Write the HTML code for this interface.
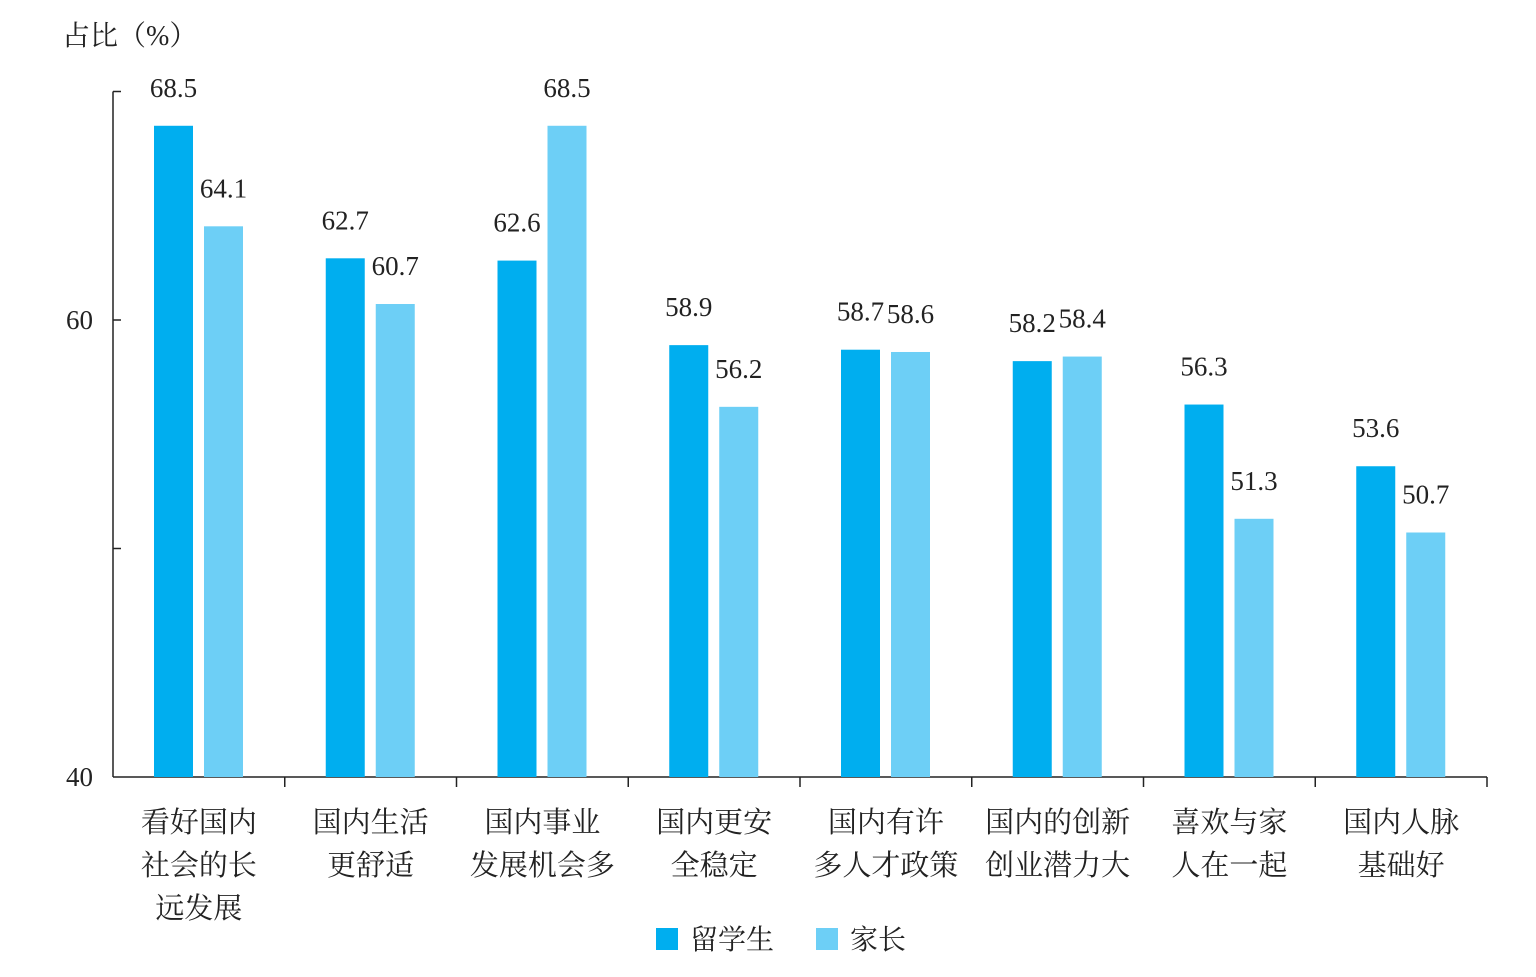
<!DOCTYPE html>
<html><head><meta charset="utf-8">
<style>
html,body{margin:0;padding:0;background:#fff;}
svg text{font-family:"Liberation Serif","Noto Serif CJK SC",serif;fill:#222;}
</style></head>
<body>
<svg id="chart" width="1536" height="972" viewBox="0 0 1536 972" xmlns="http://www.w3.org/2000/svg">
<text x="62" y="45" font-size="28">占比（%）</text>
<g id="axes"></g>
<g id="bars"></g>
<g id="legend">
  <rect x="656" y="928" width="22" height="22" fill="#00AEEF"/>
  <text x="690" y="949" font-size="28">留学生</text>
  <rect x="816" y="928" width="22" height="22" fill="#6DCFF6"/>
  <text x="850" y="949" font-size="28">家长</text>
</g>
</svg>
<script>
const categories = [["看好国内","社会的长","远发展"],["国内生活","更舒适"],["国内事业","发展机会多"],["国内更安","全稳定"],["国内有许","多人才政策"],["国内的创新","创业潜力大"],["喜欢与家","人在一起"],["国内人脉","基础好"]];
const students = [68.5,62.7,62.6,58.9,58.7,58.2,56.3,53.6];
const parents = [64.1,60.7,68.5,56.2,58.6,58.4,51.3,50.7];
const yTicks = [40,60];

const NS="http://www.w3.org/2000/svg";
const x0=113, x1=1487, y0=777, pxPerUnit=457/20, yMin=40, yMax=70;
const yScale=v=>y0-(v-yMin)*pxPerUnit;
const gw=(x1-x0)/categories.length;
function mk(tag,attrs,parent){const e=document.createElementNS(NS,tag);for(const k in attrs)e.setAttribute(k,attrs[k]);parent.appendChild(e);return e;}
const axes=document.getElementById('axes'), bars=document.getElementById('bars');

let yl=mk('line',{x1:x0,y1:yScale(yMax),x2:x0,y2:y0,stroke:'#222','stroke-width':1.5},axes);


let xl=mk('line',{x1:x0,y1:y0,x2:x1,y2:y0,stroke:'#222','stroke-width':1.5},axes);


for(let v=yMin+10; v<=yMax; v+=10){
  const t=mk('line',{x1:x0,y1:yScale(v),x2:x0+8,y2:yScale(v),stroke:'#222','stroke-width':1.5},axes);
  
  
}
yTicks.forEach(v=>{
  const t=mk('text',{x:x0-20,y:yScale(v)+9,'font-size':27,'text-anchor':'end'},axes);
  t.textContent=v;
  
  
});
for(let i=1;i<=categories.length;i++){
  const x=x0+i*gw;
  const t=mk('line',{x1:x,y1:y0,x2:x,y2:y0+10,stroke:'#222','stroke-width':1.5},axes);
  
  
}
categories.forEach((lines,i)=>{
  const gx=x0+i*gw;
  const cx=gx+gw/2;
  lines.forEach((ln,j)=>{
    const t=mk('text',{x:cx,y:832+j*43,'font-size':29,'text-anchor':'middle'},axes);
    t.textContent=ln;
    
    
  });
  [[students[i],41,'#00AEEF','student'],[parents[i],91,'#6DCFF6','parent']].forEach(([v,off,col,nm])=>{
    const bx=gx+off, top=yScale(v);
    const r=mk('rect',{x:bx,y:top,width:39,height:y0-top,fill:col},bars);
    
    
    const t=mk('text',{x:bx+19.5,y:top-29,'font-size':27,'text-anchor':'middle'},bars);
    t.textContent=v.toFixed(1);
    
    
  });
});
</script>
</body></html>
